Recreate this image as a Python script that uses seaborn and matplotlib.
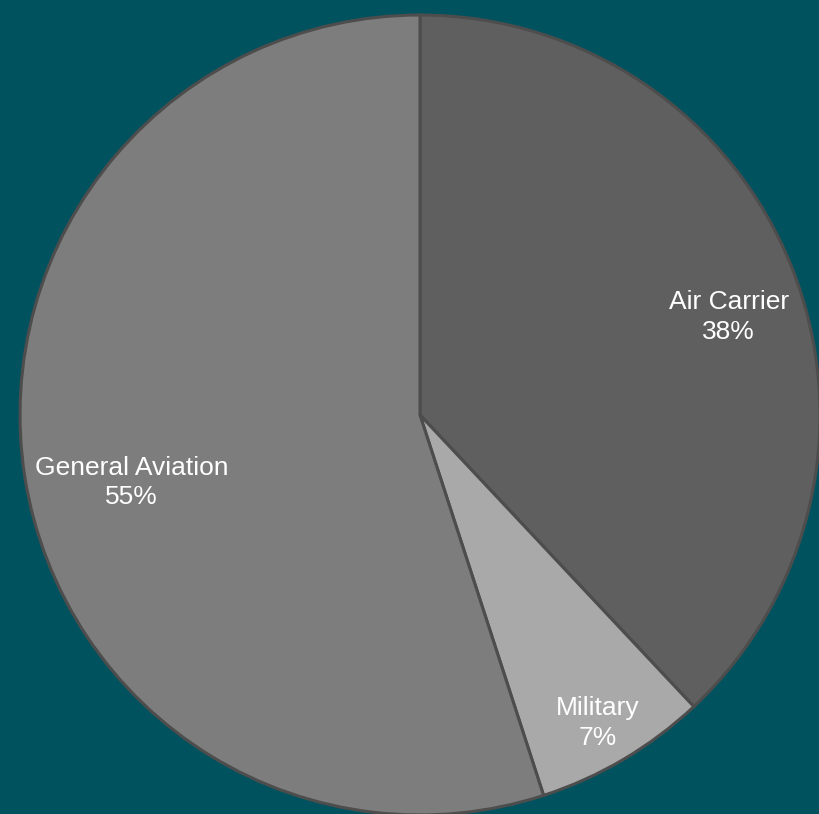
import numpy as np
import matplotlib
matplotlib.use("Agg")
import matplotlib.pyplot as plt
import seaborn as sns

# shares of operations by user type
categories = ["Air Carrier", "Military", "General Aviation"]
shares = [38, 7, 55]
slice_colors = ["#5f5f5f", "#a9a9a9", "#7d7d7d"]
label_radius = [0.81, 0.89, 0.74]
label_shift = [-4, -0.6, 4.2]  # degrees off the slice middle

bg = "#01525f"

sns.set_theme(style="white")
plt.rcParams["font.family"] = ["Liberation Sans", "DejaVu Sans"]

fig = plt.figure(figsize=(8.2, 8.14), dpi=100, facecolor=bg)
ax = fig.add_axes([20 / 820, -1 / 814, 800 / 820, 800 / 814])
ax.set_facecolor(bg)

wedges, _ = ax.pie(shares, colors=slice_colors, startangle=90, counterclock=False,
                   radius=1.0,
                   wedgeprops=dict(edgecolor="#4d4d4d", linewidth=2.2))

# labels inside each slice
for w, name, val, r, sh in zip(wedges, categories, shares, label_radius, label_shift):
    ang = np.deg2rad((w.theta1 + w.theta2) / 2 + sh)
    ax.text(r * np.cos(ang), r * np.sin(ang), f"{name}\n{val}%",
            ha="center", va="center", color="white", fontsize=19, linespacing=1.3)

ax.set_xlim(-1, 1)
ax.set_ylim(-1, 1)
ax.set_aspect("equal")
ax.axis("off")

fig.savefig("out.png", dpi=100, facecolor=bg)
